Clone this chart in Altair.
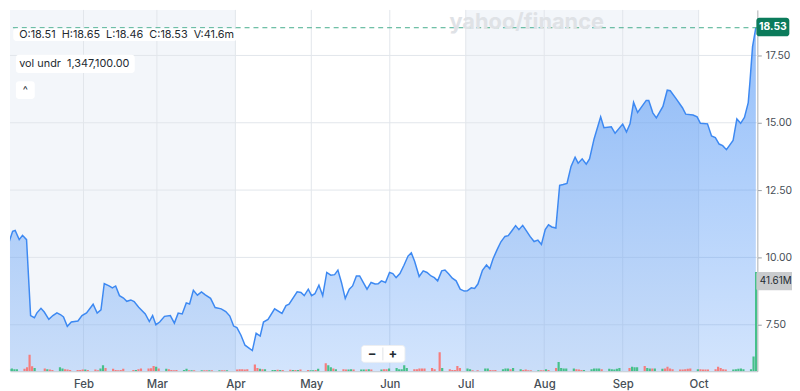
import altair as alt
import pandas as pd

# ---------------- data ----------------
# day = days after 2024-01-01, close = share price
price_day = [1.7, 3.0, 4.0, 5.6, 6.9, 8.5, 10.1, 11.6, 12.6, 14.2, 15.5, 17.3, 18.9, 20.5, 22.0, 23.1, 24.6, 26.2, 28.8, 30.4,
             32.2, 34.8, 36.4, 37.9, 39.2, 41.1, 42.4, 43.7, 45.2, 46.8, 48.1, 49.7, 51.0, 52.8, 55.4, 57.0, 58.3, 59.6, 61.1, 63.0,
             65.3, 66.9, 68.4, 70.0, 71.6, 72.9, 74.4, 76.0,
             77.6, 79.1, 81.2, 83.0, 85.4, 87.2, 88.8, 90.3, 91.6, 93.2, 94.8, 97.7, 99.2, 100.8, 102.1, 103.9, 106.5, 109.4, 111.0, 112.2,
             115.4, 116.9, 118.2, 119.8, 121.1, 122.4, 124.0, 125.5, 127.1, 128.7, 130.2, 131.5, 132.9, 134.4, 136.0, 137.3, 138.8, 140.1,
             141.5, 143.0, 144.6, 146.2, 147.4, 148.7, 150.3, 151.9, 153.2,
             154.5, 156.0, 157.6, 159.2, 160.5, 161.8, 163.6, 165.2, 166.7, 168.3, 169.6, 170.9, 172.5, 173.8, 175.3, 176.7, 178.2, 179.8,
             181.4, 182.6, 184.2, 185.5, 186.8, 188.6, 190.2, 191.5, 192.8, 194.4, 195.9, 197.5, 198.8, 200.1, 201.7, 203.0, 204.5, 206.1,
             207.4, 209.0, 210.5, 211.9, 213.4, 214.7, 216.0, 217.6, 219.1, 220.5, 222.0, 223.6, 225.2, 226.4, 228.0, 229.6, 230.9, 232.7,
             235.3, 236.6, 239.5, 241.0, 244.0, 245.5, 246.9, 248.3, 249.9, 253.3, 254.3, 255.9, 257.3, 259.9, 261.6, 262.8, 265.3, 267.6,
             268.9, 271.8, 273.4, 274.7, 277.5, 279.1, 280.6, 282.1, 283.5, 285.0, 287.6, 289.1, 290.6, 292.1, 293.6, 294.3, 295.3, 296.6]
price_close = [10.60, 10.97, 11.00, 10.66, 10.82, 10.66, 7.84, 7.76, 7.94, 8.11, 7.97, 7.70, 7.84, 7.94, 7.87, 7.79, 7.44, 7.60, 7.64, 7.84,
               7.94, 8.26, 7.93, 8.05, 9.03, 8.94, 8.87, 8.94, 8.58, 8.49, 8.37, 8.42, 8.36, 8.15, 7.90, 7.62, 7.84, 7.50, 7.60, 7.81,
               7.84, 7.56, 7.93, 7.90, 8.31, 8.27, 8.78, 8.60,
               8.72, 8.61, 8.48, 8.14, 8.09, 7.99, 7.82, 7.45, 7.39, 7.11, 6.74, 6.54, 7.18, 7.08, 7.60, 7.70, 8.09, 7.92, 8.21, 8.26,
               8.72, 8.70, 8.58, 8.82, 8.58, 8.65, 8.97, 8.58, 9.44, 9.34, 9.36, 9.53, 9.07, 8.48, 8.82, 8.94, 9.31, 9.31,
               9.07, 8.82, 9.07, 9.01, 9.02, 9.13, 9.07, 9.44, 9.40,
               9.25, 9.40, 9.71, 10.05, 10.17, 9.86, 9.29, 9.50, 9.44, 9.31, 9.25, 9.13, 9.50, 9.53, 9.38, 9.23, 9.13, 8.82,
               8.75, 8.76, 8.87, 8.85, 9.01, 9.52, 9.72, 9.58, 9.95, 10.29, 10.58, 10.78, 10.81, 10.97, 11.18, 11.03, 11.19, 10.97,
               10.78, 10.59, 10.64, 10.48, 11.03, 11.21, 11.13, 11.09, 12.68, 12.71, 12.75, 13.38, 13.72, 13.50, 13.66, 13.46, 13.66, 14.40,
               15.22, 14.82, 14.85, 14.61, 14.95, 14.66, 14.96, 15.76, 15.38, 15.83, 15.83, 15.37, 15.18, 15.61, 16.21, 16.19, 15.87, 15.56,
               15.32, 15.29, 15.22, 14.98, 14.96, 14.51, 14.45, 14.21, 14.15, 14.00, 14.34, 15.14, 14.98, 15.20, 15.75, 16.55, 17.83, 18.53]

# daily volume (millions) per trading session, by month; g = up day, r = down day
vol_jan = [0.9, 1.1, 0.85, 0.85, 1.0, 1.7, 6.9, 2.1, 1.4, 1.1, 0.85, 0.7, 0.55, 1.7, 1.1, 0.85, 0.7, 0.55, 0.55, 0.55, 0.7]
dir_jan = "ggggrrrrgrgrrggrrrrrr"
vol_feb = [0.7, 0.55, 0.7, 0.45, 1.1, 2.5, 1.4, 1.0, 0.55, 0.45, 0.55, 1.0, 0.55, 0.55, 0.85, 1.1, 1.1, 1.25, 2.2, 1.9]
dir_feb = "grrrggrrrrrrrgrrrrrg"
vol_mar = [1.1, 1.0, 0.85, 0.55, 0.45, 0.55, 0.55, 1.0, 0.45, 0.45, 0.45, 0.4, 0.45, 0.4, 0.45, 0.45, 0.4, 0.45, 0.4, 0.45]
dir_mar = "rgrrrrggrgrgrrgrgrrg"
vol_apr = [0.7, 0.8, 0.8, 0.75, 0.8, 2.8, 1.4, 1.0, 0.85, 0.85, 0.55, 0.55, 0.6, 0.55, 0.55, 0.6, 0.55, 0.55, 0.55, 0.7, 0.55, 0.45]
dir_apr = "rrrrrrrgrgggrgrrgrgrrg"
vol_may = [0.45, 0.55, 1.0, 3.3, 2.5, 1.7, 1.1, 0.85, 0.85, 0.7, 0.7, 0.85, 0.7, 0.7, 0.75, 0.7, 0.8, 0.7, 0.75, 0.8, 0.85, 1.1]
dir_may = "grgrggrgrrggrggrgrgrrg"
vol_jun = [1.4, 0.85, 0.85, 2.5, 1.4, 0.85, 0.85, 1.1, 1.1, 1.1, 1.4, 0.85, 8.0, 1.4, 0.85, 0.55, 0.55, 2.2, 1.4]
dir_jun = "gggggrrrrrrrrgrrrrr"
vol_jul = [1.1, 0.85, 0.45, 0.45, 1.1, 1.1, 0.55, 0.45, 0.55, 0.85, 1.1, 1.1, 0.85, 1.4, 0.85, 0.55, 0.7, 0.45, 0.45, 0.4, 0.45, 0.45]
dir_jul = "ggrrggrrrgggrggrrrrgrr"
vol_aug = [0.85, 0.55, 1.4, 3.9, 1.4, 1.1, 1.1, 1.1, 0.85, 0.7, 0.55, 0.55, 0.85, 1.1, 1.1, 1.1, 0.85, 1.0, 0.85, 0.7, 1.0, 1.4]
dir_aug = "grrgggggrrrgggggrggggg"
vol_sep = [1.4, 1.9, 1.7, 1.7, 2.2, 1.4, 1.1, 1.1, 1.1, 1.0, 1.1, 1.9, 1.1, 0.85, 0.7, 0.7, 0.85, 1.0, 1.1, 0.85]
dir_sep = "rgggrggrggrrrrrrrrrg"
vol_oct = [0.85, 0.7, 0.7, 0.7, 0.85, 1.9, 1.4, 0.85, 0.7, 0.7, 0.85, 1.0, 1.1, 0.85, 0.85, 6.2, 41.61]
dir_oct = "rrrrrrrrrgggggggg"

market_holidays = ["2024-01-15", "2024-02-19", "2024-03-29", "2024-05-27", "2024-06-19", "2024-07-04", "2024-09-02"]

month_days = [31, 60, 91, 121, 152, 182, 213, 244, 274]
month_names = ["Feb", "Mar", "Apr", "May", "Jun", "Jul", "Aug", "Sep", "Oct"]
quarter_start = [0, 182]
quarter_end = [91, 274]
price_ticks = [7.5, 10.0, 12.5, 15.0, 17.5]

ohlc_items = ["O:18.51", "H:18.65", "L:18.46", "C:18.53", "V:41.6m"]
vol_under_label = ["vol undr", "1,347,100.00"]
last_volume_label = "41.61M"
watermark = "yahoo/finance"

# ---------------- tables ----------------
W, H = 755, 365
price_df = pd.DataFrame({"day": price_day, "close": price_close})
sessions = pd.bdate_range("2024-01-02", "2024-10-23")
sessions = sessions[~sessions.isin(pd.to_datetime(market_holidays))]
vol_all = vol_jan + vol_feb + vol_mar + vol_apr + vol_may + vol_jun + vol_jul + vol_aug + vol_sep + vol_oct
dir_all = dir_jan + dir_feb + dir_mar + dir_apr + dir_may + dir_jun + dir_jul + dir_aug + dir_sep + dir_oct
n = min(len(sessions), len(vol_all), len(dir_all))
vol_df = pd.DataFrame({
    "day": [(d - pd.Timestamp("2024-01-01")).days + 0.7 for d in sessions[:n]],
    "volume": [v * 1e6 for v in vol_all[:n]],
    "dir": ["up" if c == "g" else "down" for c in dir_all[:n]],
})
months_df = pd.DataFrame({"day": month_days, "name": month_names})
quarters_df = pd.DataFrame({"start": quarter_start, "end": quarter_end})
ticks_df = pd.DataFrame({"close": price_ticks})
last_df = pd.DataFrame({"close": [price_close[-1]]})
one = pd.DataFrame({"k": [0]})

FONT = "Inter"
xscale = alt.Scale(domain=[1.955, 297.2], nice=False, zero=False, padding=0)
yscale = alt.Scale(domain=[5.772, 19.191], nice=False, zero=False, padding=0)
vscale = alt.Scale(domain=[0, 151.4e6], nice=False, zero=True, padding=0)

label_expr = "[" + ",".join(f"'{m}'" for m in month_names) + "][indexof([" + ",".join(str(d) for d in month_days) + "], datum.value)]"
xaxis = alt.Axis(values=month_days, labelExpr=label_expr, title=None, grid=False, ticks=False,
                 domain=True, domainColor="#c3c7cb", labelPadding=7, labelFontSize=11.5,
                 labelColor="#464e56", labelFont=FONT, labelFontWeight=500)
yaxis = alt.Axis(values=price_ticks, format=".2f", orient="right", title=None, grid=False,
                 ticks=True, tickSize=4, tickColor="#9aa0a6", domain=True, domainColor="#a9adb1",
                 labelPadding=4, labelFontSize=10.5, labelColor="#464e56", labelFont=FONT)


def X(f):
    return alt.X(f"{f}:Q", scale=xscale, axis=xaxis)


def YP(f):
    return alt.Y(f"{f}:Q", scale=yscale, axis=yaxis)


bg = alt.Chart(quarters_df).mark_rect(color="#f3f6fa", clip=True).encode(
    x=X("start"), x2="end", y=alt.value(0), y2=alt.value(H))
vgrid = alt.Chart(months_df).mark_rule(color="#e2e6eb", strokeWidth=1).encode(x=X("day"))
hgrid = alt.Chart(ticks_df).mark_rule(color="#e2e6eb", strokeWidth=1).encode(y=YP("close"))

grad = alt.Gradient(gradient="linear", x1=1, x2=1, y1=0, y2=1,
                    stops=[alt.GradientStop(color="rgba(59,137,245,0.55)", offset=0),
                           alt.GradientStop(color="rgba(59,137,245,0.08)", offset=1)])
area = alt.Chart(price_df).mark_area(color=grad, clip=True).encode(
    x=X("day"), y=YP("close"), y2=alt.value(H))
line = alt.Chart(price_df).mark_line(color="#3d89f2", strokeWidth=1.5, clip=True).encode(
    x=X("day"), y=YP("close"))
dash = alt.Chart(last_df).mark_rule(color="#45ad8d", strokeDash=[5, 4], strokeWidth=1).encode(y=YP("close"))

price_layer = alt.layer(hgrid, vgrid, area, line, dash)

vol = alt.Chart(vol_df).mark_bar(size=2.2, clip=True).encode(
    x=X("day"),
    y=alt.Y("volume:Q", scale=vscale, axis=None),
    color=alt.Color("dir:N", scale=alt.Scale(domain=["up", "down"], range=["#46c08a", "#f57d7d"]), legend=None),
)

wm = alt.Chart(one).mark_text(font=FONT, fontSize=22, fontWeight="bold", color="#dfe2e6",
                              align="center", baseline="alphabetic").encode(
    x=alt.value(522), y=alt.value(19), text=alt.value(watermark))

SP = "\u00a0\u00a0"


def box(x1, x2, y1, y2, color="white", r=3, stroke=None):
    mk = dict(color=color, cornerRadius=r)
    if stroke:
        mk.update(stroke=stroke, strokeWidth=1)
    return alt.Chart(one).mark_rect(**mk).encode(
        x=alt.value(x1), x2=alt.value(x2), y=alt.value(y1), y2=alt.value(y2))


def label(x, y, t, size=11, color="#232a31", align="left", weight="normal"):
    return alt.Chart(one).mark_text(font=FONT, fontSize=size, color=color, align=align,
                                    baseline="middle", fontWeight=weight).encode(
        x=alt.value(x), y=alt.value(y), text=alt.value(t))


overlays = [
    wm,
    box(3.3, 229.3, 18.7, 31.3), label(9.3, 25.3, SP.join(ohlc_items)),
    box(6, 126, 45.3, 63.7), label(9.3, 54.5, SP.join(vol_under_label)),
    box(6, 25, 72, 90), label(15.5, 82, "^", size=11, align="center"),
    box(355, 399, 339, 356, stroke="#eceef1"),
    alt.Chart(one).mark_rule(color="#e0e3e7").encode(x=alt.value(376.7), y=alt.value(341), y2=alt.value(354)),
    label(365.7, 347.5, "\u2212", size=13, align="center", weight="bold"),
    label(386.7, 347.5, "+", size=13, align="center", weight="bold"),
    box(754, 787.3, 8, 26.7, color="#0b7b5b", r=3),
    label(770.7, 17.5, f"{price_close[-1]:.2f}", size=10.5, color="white", align="center", weight="bold"),
    box(754, 792, 264.7, 283.3, color="#c9cbcd", r=2),
    label(757.5, 274, last_volume_label, size=10, color="#232a31"),
]

chart = alt.layer(bg, price_layer, vol, *overlays).resolve_scale(y="independent").properties(
    width=W, height=H,
    padding={"left": 2, "top": 0, "right": 35, "bottom": 18},
    autosize=alt.AutoSizeParams(type="none"),
    background="white",
).configure_view(strokeWidth=0)

chart.save("out.html", embed_options={"renderer": "svg", "actions": False})
